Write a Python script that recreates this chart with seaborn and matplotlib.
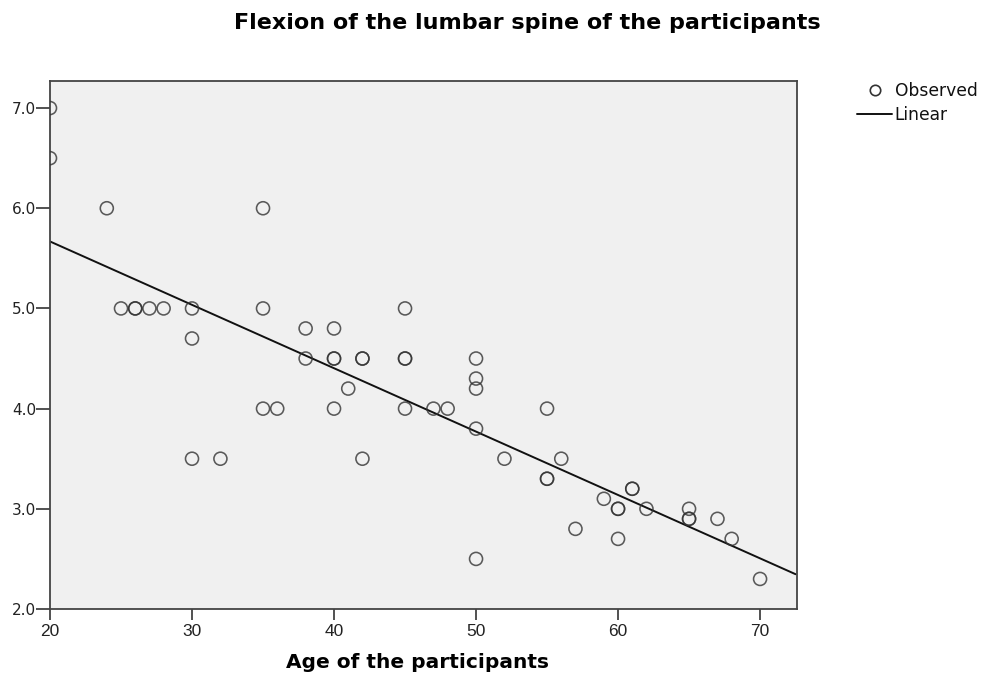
import matplotlib
matplotlib.use("Agg")
import matplotlib.pyplot as plt
from matplotlib.lines import Line2D
import seaborn as sns
import pandas as pd
import numpy as np

age = [20, 20, 24, 25, 26, 26, 27, 28, 30, 30, 30, 32, 35, 35, 35, 36,
       38, 38, 40, 40, 40, 40, 41, 42, 42, 42, 45, 45, 45, 45, 47, 48,
       50, 50, 50, 50, 50, 52, 55, 55, 55, 56, 57, 59, 60, 60, 60, 61, 61,
       62, 65, 65, 65, 67, 68, 70]
flexion = [7.0, 6.5, 6.0, 5.0, 5.0, 5.0, 5.0, 5.0, 5.0, 4.7, 3.5, 3.5, 6.0, 5.0, 4.0, 4.0,
           4.8, 4.5, 4.8, 4.5, 4.5, 4.0, 4.2, 4.5, 4.5, 3.5, 5.0, 4.5, 4.5, 4.0, 4.0, 4.0,
           4.5, 4.3, 4.2, 3.8, 2.5, 3.5, 4.0, 3.3, 3.3, 3.5, 2.8, 3.1, 3.0, 3.0, 2.7, 3.2, 3.2,
           3.0, 3.0, 2.9, 2.9, 2.9, 2.7, 2.3]
x_ticks = [20, 30, 40, 50, 60, 70]
y_ticks = [2.0, 3.0, 4.0, 5.0, 6.0, 7.0]

df = pd.DataFrame({"age": age, "flexion": flexion})

sns.set_style("white")
plt.rcParams["font.family"] = ["DejaVu Sans"]

fig = plt.figure(figsize=(9.83, 6.79), dpi=100)
ax = fig.add_axes([50/983, 1 - 609/679, (797-50)/983, (609-81)/679])
ax.set_facecolor("#f0f0f0")

sns.regplot(data=df, x="age", y="flexion", ax=ax, ci=None, truncate=False,
            scatter_kws=dict(s=88, facecolors="none", edgecolors="#333333", linewidths=1.15, zorder=3),
            line_kws=dict(color="#111111", lw=1.4, zorder=2))
ax.set_xlim(20, 72.6)
ax.set_ylim(2.0, 7.27)

ax.set_xticks(x_ticks)
ax.set_xticklabels([str(t) for t in x_ticks], fontsize=12.5, color="#222222",
                   family="Liberation Sans")
ax.set_yticks(y_ticks)
ax.set_yticklabels([f"{t:.1f}" for t in y_ticks], fontsize=11, color="#222222")
ax.tick_params(axis="y", direction="out", length=10, width=1.2, color="#333333", pad=0, left=True)
ax.tick_params(axis="x", direction="out", length=8, width=1.2, color="#333333", pad=3, bottom=True)
ax.set_xlabel("")
ax.set_ylabel("")
for s in ax.spines.values():
    s.set_color("#444444")
    s.set_linewidth(1.3)
    s.set_visible(True)

fig.text(527/983, 1 - 23/679, "Flexion of the lumbar spine of the participants",
         ha="center", va="center", fontsize=16, fontweight="bold", color="#000000")
fig.text(418/983, 1 - 663/679, "Age of the participants",
         ha="center", va="center", fontsize=14.5, fontweight="bold", color="#000000")

handles = [Line2D([], [], marker="o", ls="none", markerfacecolor="none",
                  markeredgecolor="#333333", markersize=7.5, markeredgewidth=1.2),
           Line2D([], [], color="#111111", lw=1.4)]
leg = fig.legend(handles, ["Observed", "Linear"], loc="upper left",
                 bbox_to_anchor=(857/983, 1 - 82/679), frameon=False,
                 prop=dict(family="DejaVu Sans", size=12.3),
                 handlelength=2.05, handletextpad=0.15, labelspacing=0.35, borderpad=0,
                 borderaxespad=0)
for t in leg.get_texts():
    t.set_color("#111111")

fig.savefig("out.png", dpi=100)
